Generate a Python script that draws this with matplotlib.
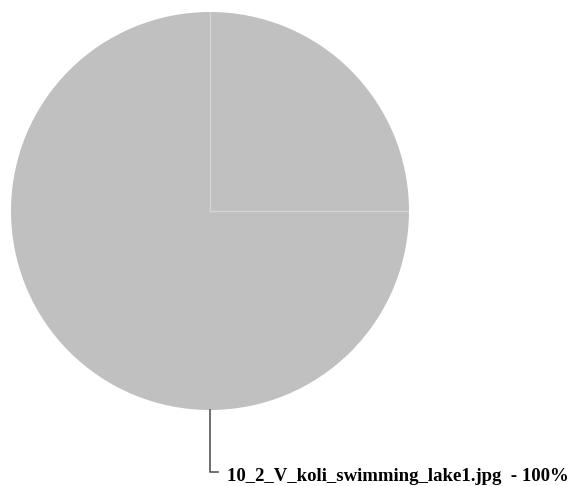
import matplotlib
matplotlib.use("Agg")
import matplotlib.pyplot as plt

labels = ["10_2_V_koli_swimming_lake1.jpg"]
values = [100]
colors = ["#c0c0c0"]

W, H = 575, 486
fig = plt.figure(figsize=(W / 100, H / 100), dpi=100)

# pie centre ~ (210, 211) px, radius ~ 199 px
cx, cy, r = 210, 211, 199
ax = fig.add_axes([(cx - r) / W, (H - cy - r) / H, 2 * r / W, 2 * r / H])

wedges, _ = ax.pie(values, colors=colors, startangle=90, counterclock=False,
                   radius=1, wedgeprops=dict(linewidth=0))
ax.set_xlim(-1, 1)
ax.set_ylim(-1, 1)
ax.axis("off")

# faint seam lines seen in the reference
ax.plot([0, 0], [0, 1], color="#d6d6d6", lw=0.9, zorder=3)
ax.plot([0, 1], [0, 0], color="#d6d6d6", lw=0.9, zorder=3)

total = sum(values)
for lab, v in zip(labels, values):
    ax.plot([0, 0, 0.04], [-1, -1.31, -1.31], color="#555555", lw=1.2,
            clip_on=False)
    t = ax.text(0.085, -1.357, f"{lab}  - {v / total * 100:.0f}%", ha="left",
                va="baseline", fontsize=13.5, fontweight="bold",
                family="Liberation Serif", clip_on=False)

fig.savefig("out.png", dpi=100)
